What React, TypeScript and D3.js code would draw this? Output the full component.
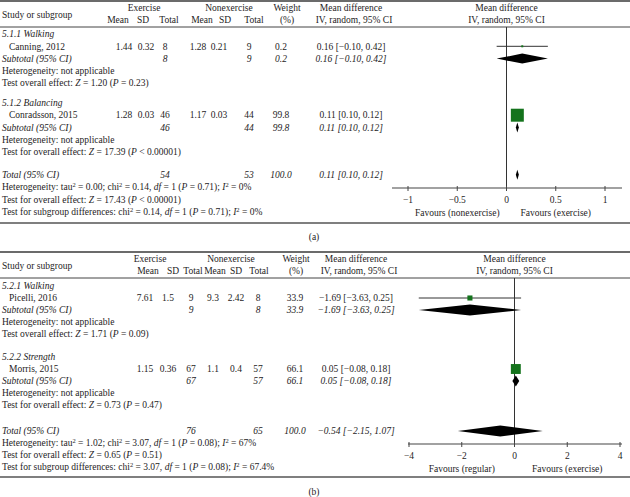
import React from "react";
import * as d3 from "d3";

const W = 630;
const H = 497;
const FONT = "'Liberation Serif', 'DejaVu Serif', Times, serif";
const TXT = "#1e1c1d";
const GREEN = "#14731c";
const FS = 9.5;

// ---------- Panel (a) data ----------
const aGroups = ["5.1.1 Walking", "5.1.2 Balancing"];
const aStudies = ["Canning, 2012", "Conradsson, 2015"];
const aExMean = [1.44, 1.28];
const aExSD = [0.32, 0.03];
const aExN = [8, 46];
const aNonMean = [1.28, 1.17];
const aNonSD = [0.21, 0.03];
const aNonN = [9, 44];
const aWeight = [0.2, 99.8];
const aMD = [0.16, 0.11];
const aLo = [-0.1, 0.1];
const aHi = [0.42, 0.12];
const aHet = ["Heterogeneity: not applicable", "Heterogeneity: not applicable"];
const aTest = [
  "Test overall effect: _Z_ = 1.20 (_P_ = 0.23)",
  "Test for overall effect: _Z_ = 17.39 (_P_ < 0.00001)",
];
const aTotalN = [54, 53];
const aTotalWeight = 100.0;
const aTotalMD = [0.11, 0.1, 0.12];
const aFooter = [
  "Heterogeneity: tau^2^ = 0.00; chi^2^ = 0.14, _df_ = 1 (_P_ = 0.71); _I_^2^ = 0%",
  "Test for overall effect: _Z_ = 17.43 (_P_ < 0.00001)",
  "Test for subgroup differences: chi^2^ = 0.14, _df_ = 1 (_P_ = 0.71); _I_^2^ = 0%",
];
const aDomain = [-1, 1];
const aTicks = [-1, -0.5, 0, 0.5, 1];
const aFavours = ["Favours (nonexercise)", "Favours (exercise)"];

// ---------- Panel (b) data ----------
const bGroups = ["5.2.1 Walking", "5.2.2 Strength"];
const bStudies = ["Picelli, 2016", "Morris, 2015"];
const bExMean = [7.61, 1.15];
const bExSD = [1.5, 0.36];
const bExN = [9, 67];
const bNonMean = [9.3, 1.1];
const bNonSD = [2.42, 0.4];
const bNonN = [8, 57];
const bWeight = [33.9, 66.1];
const bMD = [-1.69, 0.05];
const bLo = [-3.63, -0.08];
const bHi = [0.25, 0.18];
const bHet = ["Heterogeneity: not applicable", "Heterogeneity: not applicable"];
const bTest = [
  "Test overall effect: _Z_ = 1.71 (_P_ = 0.09)",
  "Test for overall effect: _Z_ = 0.73 (_P_ = 0.47)",
];
const bTotalN = [76, 65];
const bTotalWeight = 100.0;
const bTotalMD = [-0.54, -2.15, 1.07];
const bFooter = [
  "Heterogeneity: tau^2^ = 1.02; chi^2^ = 3.07, _df_ = 1 (_P_ = 0.08); _I_^2^ = 67%",
  "Test for overall effect: _Z_ = 0.65 (_P_ = 0.51)",
  "Test for subgroup differences: chi^2^ = 3.07, _df_ = 1 (_P_ = 0.08); _I_^2^ = 67.4%",
];
const bDomain = [-4, 4];
const bTicks = [-4, -2, 0, 2, 4];
const bFavours = ["Favours (regular)", "Favours (exercise)"];

const minus = (s: string) => s.replace(/-/g, "\u2212");
const f2 = (v: number) => minus(v.toFixed(2));
const mdText = (m: number, l: number, h: number) => `${f2(m)} [${f2(l)}, ${f2(h)}]`;

function Rich({ x, y, s, anchor = "start", italic = false, size = FS }: any) {
  const tokens = s.split(/(_[^_]+_|\^[^^]+\^)/).filter((t: string) => t.length);
  const out: any[] = [];
  let raised = false;
  tokens.forEach((t: string, i: number) => {
    if (t.startsWith("_")) {
      out.push(
        <tspan key={i} fontStyle="italic" dy={raised ? 3.3 : 0}>
          {t.slice(1, -1)}
        </tspan>
      );
      raised = false;
    } else if (t.startsWith("^")) {
      out.push(
        <tspan key={i} fontSize={size * 0.68} dy={-3.3}>
          {t.slice(1, -1)}
        </tspan>
      );
      raised = true;
    } else {
      out.push(
        <tspan key={i} dy={raised ? 3.3 : 0}>
          {t}
        </tspan>
      );
      raised = false;
    }
  });
  return (
    <text x={x} y={y} textAnchor={anchor} fontStyle={italic ? "italic" : "normal"} fontSize={size}>
      {out}
    </text>
  );
}

function Panel(p: any) {
  const L = p.layout;
  const C = p.cols;
  const top = L.top;
  const hdrLine = top + 26;
  const rows: number[] = [];
  let y = L.g1;
  for (let g = 0; g < 2; g++) {
    if (g === 1) y += L.gapGroup - L.step;
    for (let k = 0; k < 5; k++) {
      rows.push(y);
      y += L.step;
    }
  }
  y += L.gapTotal - L.step;
  const totalY = y;
  const footY = [totalY + L.step, totalY + 2 * L.step, totalY + 3 * L.step];

  const x = d3.scaleLinear().domain(p.domain).range(L.xRange);
  const sq = d3.scaleLinear().domain([0, 100]).range([0, L.sqMax]);
  const fmtTick = d3.format("");
  const b = 3.2;

  const diamond = (m: number, lo: number, hi: number, cy: number, hh: number) => {
    let x0 = x(lo), x1 = x(hi);
    const xm = x(m);
    if (x1 - x0 < 3) {
      x0 = xm - 1.5;
      x1 = xm + 1.5;
    }
    return `M${x0},${cy} L${xm},${cy - hh} L${x1},${cy} L${xm},${cy + hh} Z`;
  };

  const numRow = (i: number, cy: number) => (
    <g key={"n" + i}>
      <text x={C.exMean} y={cy + b} textAnchor="middle">{String(p.exMean[i])}</text>
      <text x={C.exSD} y={cy + b} textAnchor="middle">{String(p.exSD[i])}</text>
      <text x={C.exN} y={cy + b} textAnchor="middle">{String(p.exN[i])}</text>
      <text x={C.nonMean} y={cy + b} textAnchor="middle">{String(p.nonMean[i])}</text>
      <text x={C.nonSD} y={cy + b} textAnchor="middle">{String(p.nonSD[i])}</text>
      <text x={C.nonN} y={cy + b} textAnchor="middle">{String(p.nonN[i])}</text>
      <text x={C.weight} y={cy + b} textAnchor="middle">{p.weight[i].toFixed(1)}</text>
      <text x={C.md} y={cy + b} textAnchor="middle">{mdText(p.md[i], p.lo[i], p.hi[i])}</text>
    </g>
  );
  const subRow = (i: number, cy: number) => (
    <g key={"s" + i} fontStyle="italic">
      <text x={2} y={cy + b}>Subtotal (95% CI)</text>
      <text x={C.exN} y={cy + b} textAnchor="middle">{String(p.exN[i])}</text>
      <text x={C.nonN} y={cy + b} textAnchor="middle">{String(p.nonN[i])}</text>
      <text x={C.weight} y={cy + b} textAnchor="middle">{p.weight[i].toFixed(1)}</text>
      <text x={C.md} y={cy + b} textAnchor="middle">{mdText(p.md[i], p.lo[i], p.hi[i])}</text>
    </g>
  );

  return (
    <g fontFamily={FONT} fontSize={FS} fill={TXT}>
      <line x1={0} x2={W} y1={top} y2={top} stroke="#3a3a3a" strokeWidth={1.6} />
      <line x1={0} x2={W} y1={hdrLine} y2={hdrLine} stroke="#444" strokeWidth={1} />
      <line x1={0} x2={W} y1={L.bottom} y2={L.bottom} stroke="#555" strokeWidth={1.6} />

      <text x={2} y={top + 14 + b}>Study or subgroup</text>
      <text x={C.hEx} y={top + 7 + b} textAnchor="middle">Exercise</text>
      <text x={C.hNon} y={top + 7 + b} textAnchor="middle">Nonexercise</text>
      <text x={C.hW} y={top + 7 + b} textAnchor="middle">Weight</text>
      <text x={C.hW} y={top + 19 + b} textAnchor="middle">(%)</text>
      <text x={C.md} y={top + 7 + b} textAnchor="middle">Mean difference</text>
      <text x={C.md + 3} y={top + 19 + b} textAnchor="middle">IV, random, 95% CI</text>
      {[["Mean", C.hExMean], ["SD", C.hExSD], ["Total", C.hExN], ["Mean", C.hNonMean], ["SD", C.hNonSD], ["Total", C.hNonN]].map(
        ([t, xx]: any, i) => (
          <text key={i} x={xx} y={top + 19 + b} textAnchor="middle">{t}</text>
        )
      )}
      <text x={x(0)} y={top + 7 + b} textAnchor="middle">Mean difference</text>
      <text x={x(0)} y={top + 19 + b} textAnchor="middle">IV, random, 95% CI</text>

      {[0, 1].map((g) => {
        const r = rows.slice(g * 5, g * 5 + 5);
        return (
          <g key={g}>
            <text x={2} y={r[0] + b} fontStyle="italic">{p.groups[g]}</text>
            <text x={9} y={r[1] + b}>{p.studies[g]}</text>
            {numRow(g, r[1])}
            {subRow(g, r[2])}
            <text x={2} y={r[3] + b}>{p.het[g]}</text>
            <Rich x={2} y={r[4] + b} s={p.test[g]} />
          </g>
        );
      })}

      <g fontStyle="italic">
        <text x={2} y={totalY + b}>Total (95% CI)</text>
        <text x={C.exN} y={totalY + b} textAnchor="middle">{String(p.totalN[0])}</text>
        <text x={C.nonN} y={totalY + b} textAnchor="middle">{String(p.totalN[1])}</text>
        <text x={C.weight} y={totalY + b} textAnchor="middle">{p.totalWeight.toFixed(1)}</text>
        <text x={C.md} y={totalY + b} textAnchor="middle">{mdText(p.totalMD[0], p.totalMD[1], p.totalMD[2])}</text>
      </g>
      {p.footer.map((s: string, i: number) => (
        <Rich key={i} x={2} y={footY[i] + b} s={s} />
      ))}

      <line x1={x(0)} x2={x(0)} y1={hdrLine} y2={L.axisY} stroke="#333" strokeWidth={1} />
      <line x1={L.axisExt[0]} x2={L.axisExt[1]} y1={L.axisY} y2={L.axisY} stroke="#444" strokeWidth={1.2} />
      {p.ticks.map((t: number, i: number) => (
        <g key={i}>
          <line x1={x(t)} x2={x(t)} y1={L.axisY - 2} y2={L.axisY + 3} stroke="#444" strokeWidth={1} />
          <text x={x(t)} y={L.axisY + 12 + b} textAnchor="middle">{fmtTick(t)}</text>
        </g>
      ))}
      <text x={x(p.domain[0] / 2)} y={L.axisY + 25 + b} textAnchor="middle">{p.favours[0]}</text>
      <text x={x(p.domain[1] / 2)} y={L.axisY + 25 + b} textAnchor="middle">{p.favours[1]}</text>

      {[0, 1].map((g) => {
        const r = rows.slice(g * 5, g * 5 + 5);
        const s = Math.max(2, sq(p.weight[g]));
        return (
          <g key={"f" + g}>
            <line x1={x(p.lo[g])} x2={x(p.hi[g])} y1={r[1]} y2={r[1]} stroke="#333" strokeWidth={1} />
            <rect x={x(p.md[g]) - s / 2} y={r[1] - s / 2} width={s} height={s} fill={GREEN} />
            <path d={diamond(p.md[g], p.lo[g], p.hi[g], r[2], L.dh)} fill="#000" />
          </g>
        );
      })}
      <path d={diamond(p.totalMD[0], p.totalMD[1], p.totalMD[2], totalY, L.dh)} fill="#000" />

      <text x={314} y={L.label + b} textAnchor="middle">{p.label}</text>
    </g>
  );
}

export default function App() {
  return (
    <svg width={W} height={H} style={{ display: "block", position: "absolute", left: 0, top: 0, background: "#fff" }}>
      <rect width={W} height={H} fill="#fff" />
      <Panel
        label="(a)"
        groups={aGroups}
        studies={aStudies}
        exMean={aExMean}
        exSD={aExSD}
        exN={aExN}
        nonMean={aNonMean}
        nonSD={aNonSD}
        nonN={aNonN}
        weight={aWeight}
        md={aMD}
        lo={aLo}
        hi={aHi}
        het={aHet}
        test={aTest}
        totalN={aTotalN}
        totalWeight={aTotalWeight}
        totalMD={aTotalMD}
        footer={aFooter}
        domain={aDomain}
        ticks={aTicks}
        favours={aFavours}
        layout={{ top: 1, g1: 34, step: 12.3, gapGroup: 19.7, gapTotal: 22.7, axisY: 188, bottom: 223, label: 237, xRange: [408, 605], axisExt: [392, 622], sqMax: 13, dh: 5 }}
        cols={{ exMean: 124, exSD: 146, exN: 165, nonMean: 198, nonSD: 219, nonN: 249, weight: 281, md: 351, hEx: 144, hNon: 229, hW: 287, hExMean: 118, hExSD: 143, hExN: 169, hNonMean: 202, hNonSD: 225, hNonN: 254 }}
      />
      <Panel
        label="(b)"
        groups={bGroups}
        studies={bStudies}
        exMean={bExMean}
        exSD={bExSD}
        exN={bExN}
        nonMean={bNonMean}
        nonSD={bNonSD}
        nonN={bNonN}
        weight={bWeight}
        md={bMD}
        lo={bLo}
        hi={bHi}
        het={bHet}
        test={bTest}
        totalN={bTotalN}
        totalWeight={bTotalWeight}
        totalMD={bTotalMD}
        footer={bFooter}
        domain={bDomain}
        ticks={bTicks}
        favours={bFavours}
        layout={{ top: 252, g1: 286, step: 12, gapGroup: 23, gapTotal: 26, axisY: 444, bottom: 477, label: 492, xRange: [409, 620], axisExt: [408, 622], sqMax: 15, dh: 5.5 }}
        cols={{ exMean: 145, exSD: 168, exN: 191, nonMean: 213, nonSD: 236, nonN: 258, weight: 295, md: 356, hEx: 150, hNon: 231, hW: 296, hExMean: 148, hExSD: 173, hExN: 193, hNonMean: 215, hNonSD: 236, hNonN: 259 }}
      />
    </svg>
  );
}
